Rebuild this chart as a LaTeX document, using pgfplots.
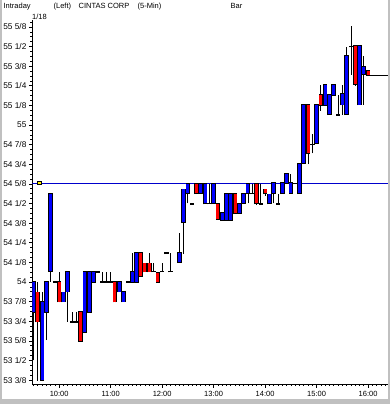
\documentclass[border=0pt]{standalone}
\usepackage{pgfplots}
\pgfplotsset{compat=1.18}
\usepackage{pgfplotstable}
\usetikzlibrary{backgrounds,calc}
\usepackage{fontspec}
\setmainfont{Liberation Sans}
\definecolor{framegray}{RGB}{192,192,192}
\definecolor{cblue}{RGB}{0,0,255}
\definecolor{cred}{RGB}{255,0,0}
\definecolor{lineblue}{RGB}{0,0,204}
\newcommand\cf{\fontsize{7.5}{8}\selectfont}
\newcommand\yf{\fontsize{8.3}{9}\selectfont}

% i = 5-min bar index from 9:30; top/bot = body; hi/lo = wick; c: 0 blue, 1 red
\pgfplotstableread{
i top bot hi lo c
0 54.000 53.810 54.000 53.500 0
1 53.934 53.747 54.000 53.370 1
2 53.873 53.376 53.935 53.376 0
3 54.000 53.810 54.000 53.630 0
4 54.560 54.070 54.560 54.000 0
5 54.000 54.000 54.000 54.000 0
6 54.000 53.875 54.066 53.870 1
7 53.934 53.875 53.934 53.875 0
8 54.062 53.938 54.062 53.748 0
9 53.745 53.745 53.810 53.745 0
10 53.745 53.745 53.810 53.745 0
11 53.807 53.624 53.807 53.620 1
12 54.062 53.683 54.062 53.683 0
13 54.062 53.810 54.062 53.810 0
14 54.062 54.000 54.062 54.000 0
15 54.062 54.062 54.062 54.062 0
16 54.000 54.000 54.062 54.000 0
17 54.000 54.000 54.062 54.000 0
18 54.000 54.000 54.062 54.000 0
19 54.000 53.875 54.000 53.870 1
20 54.000 53.938 54.000 53.938 0
21 53.938 53.875 53.938 53.875 0
22 54.000 54.000 54.000 54.000 0
23 54.062 54.000 54.183 54.000 0
24 54.183 54.000 54.183 54.000 0
25 54.183 54.038 54.183 54.038 1
26 54.119 54.066 54.119 54.066 1
27 54.119 54.066 54.183 54.066 1
28 54.066 54.066 54.120 54.066 0
29 54.060 54.000 54.060 53.995 1
30 54.066 54.066 54.120 54.066 0
31 54.183 54.183 54.183 54.183 0
32 54.066 54.066 54.183 54.066 0
34 54.183 54.125 54.310 54.125 0
35 54.590 54.380 54.590 54.180 0
36 54.624 54.565 54.624 54.500 0
37 54.497 54.497 54.497 54.497 0
38 54.624 54.565 54.624 54.560 1
39 54.624 54.565 54.624 54.565 0
40 54.624 54.500 54.624 54.500 0
41 54.500 54.500 54.624 54.500 0
42 54.624 54.500 54.624 54.500 0
43 54.495 54.400 54.500 54.395 1
44 54.440 54.395 54.440 54.395 0
45 54.560 54.395 54.560 54.395 0
46 54.560 54.395 54.560 54.395 0
47 54.560 54.437 54.560 54.437 1
48 54.495 54.440 54.495 54.440 0
49 54.560 54.500 54.560 54.500 0
50 54.624 54.565 54.624 54.500 0
51 54.565 54.565 54.624 54.565 0
52 54.624 54.500 54.624 54.490 1
53 54.497 54.497 54.624 54.497 0
54 54.590 54.565 54.590 54.550 1
55 54.558 54.500 54.558 54.500 0
56 54.630 54.565 54.630 54.500 0
57 54.497 54.497 54.560 54.497 0
58 54.630 54.565 54.630 54.565 0
59 54.688 54.630 54.688 54.630 0
60 54.630 54.565 54.688 54.565 0
61 54.628 54.628 54.628 54.628 0
62 54.750 54.565 54.750 54.565 0
63 55.127 54.756 55.127 54.756 0
64 55.127 54.820 55.127 54.750 1
65 54.877 54.877 54.940 54.820 0
66 55.127 54.883 55.127 54.883 0
67 55.190 55.127 55.255 55.090 1
68 55.255 55.127 55.255 55.127 0
69 55.190 55.068 55.190 55.068 0
70 55.255 55.190 55.255 55.190 0
71 55.064 55.064 55.190 55.064 0
72 55.200 55.130 55.255 55.064 0
73 55.440 55.068 55.500 55.068 0
74 55.500 55.500 55.630 55.320 0
75 55.503 55.260 55.503 55.250 1
76 55.503 55.130 55.503 55.130 0
77 55.370 55.325 55.440 55.130 0
78 55.347 55.318 55.347 55.318 1
}\bars

\begin{document}
\begin{tikzpicture}
\begin{axis}[
  name=ax, scale only axis,
  width=356pt, height=364pt,
  xmin=-0.23, xmax=82.75, ymin=53.35, ymax=55.669,
  axis lines*=left, axis line style={-, black, line width=0.8pt},
  tick align=outside, major tick length=3.5pt, minor tick length=2pt,
  every tick/.style={black, line width=0.6pt},
  xtick={6,18,30,42,54,66,78},
  xticklabels={\mbox{10:00},\mbox{11:00},\mbox{12:00},\mbox{13:00},\mbox{14:00},\mbox{15:00},\mbox{16:00}},
  minor xtick={0,1,...,82},
  ytick={53.375,53.5,53.625,53.75,53.875,54,54.125,54.25,54.375,54.5,54.625,54.75,54.875,55,55.125,55.25,55.375,55.5,55.625},
  yticklabels={\mbox{53 3/8},\mbox{53 1/2},\mbox{53 5/8},\mbox{53 3/4},\mbox{53 7/8},\mbox{54},\mbox{54 1/8},\mbox{54 1/4},\mbox{54 3/8},\mbox{54 1/2},\mbox{54 5/8},\mbox{54 3/4},\mbox{54 7/8},\mbox{55},\mbox{55 1/8},\mbox{55 1/4},\mbox{55 3/8},\mbox{55 1/2},\mbox{55 5/8}},
  minor ytick={53.375,53.40625,...,55.66},
  yticklabel style={font=\yf, anchor=east, xshift=1pt},
  xticklabel style={font=\cf},
  clip=true,
]
\coordinate (ll) at (rel axis cs:0,0);
% reference line at 54 5/8
\addplot[lineblue, line width=0.9pt, forget plot] coordinates {(-0.23,54.628) (82.75,54.628)};
% last price line
\addplot[black, line width=0.8pt, forget plot] coordinates {(78.5,55.318) (82.75,55.318)};
% wicks
\addplot[draw=none, mark=none, forget plot,
  error bars/.cd, y dir=plus, y explicit, error mark=none,
  error bar style={draw=black, solid, line width=0.8pt}]
  table[x=i, y=lo, y error plus expr=\thisrow{hi}-\thisrow{lo}] {\bars};
% body outlines
\addplot[draw=none, mark=none, forget plot,
  error bars/.cd, y dir=plus, y explicit, error mark=none,
  error bar style={draw=black, solid, line width=4.6pt}]
  table[x=i, y expr=\thisrow{bot}-0.005, y error plus expr=\thisrow{top}-\thisrow{bot}+0.010] {\bars};
% blue bodies
\addplot[draw=none, mark=none, forget plot,
  restrict expr to domain={\thisrow{c}}{0:0},
  error bars/.cd, y dir=plus, y explicit, error mark=none,
  error bar style={draw=cblue, solid, line width=3.0pt}]
  table[x=i, y=bot, y error plus expr=\thisrow{top}-\thisrow{bot}] {\bars};
% red bodies
\addplot[draw=none, mark=none, forget plot,
  restrict expr to domain={\thisrow{c}}{1:1},
  error bars/.cd, y dir=plus, y explicit, error mark=none,
  error bar style={draw=cred, solid, line width=3.0pt}]
  table[x=i, y=bot, y error plus expr=\thisrow{top}-\thisrow{bot}] {\bars};
% marker
\addplot[only marks, mark=square*, mark size=1.4pt, forget plot,
  mark options={fill=yellow, draw=black, line width=0.4pt, xscale=1.5, yscale=0.8}]
  coordinates {(1.35,54.632)};
\end{axis}
\begin{scope}[on background layer]
\fill[framegray] ($(ll)+(-32pt,-20pt)$) rectangle ($(ll)+(358pt,384pt)$);
\fill[white] ($(ll)+(-30pt,-15pt)$) rectangle ($(ll)+(356pt,384pt)$);
\end{scope}
\node[font=\cf, anchor=base west, inner sep=0] at ($(ll)+(-29pt,375pt)$) {Intraday};
\node[font=\cf, anchor=base, inner sep=0] at ($(ll)+(7pt,364pt)$) {1/18};
\node[font=\cf, anchor=base west, inner sep=0] at ($(ll)+(21pt,375pt)$) {(Left)};
\node[font=\cf, anchor=base west, inner sep=0] at ($(ll)+(46pt,375pt)$) {CINTAS CORP};
\node[font=\cf, anchor=base west, inner sep=0] at ($(ll)+(105pt,375pt)$) {(5-Min)};
\node[font=\cf, anchor=base west, inner sep=0] at ($(ll)+(198pt,375pt)$) {Bar};
\end{tikzpicture}
\end{document}
